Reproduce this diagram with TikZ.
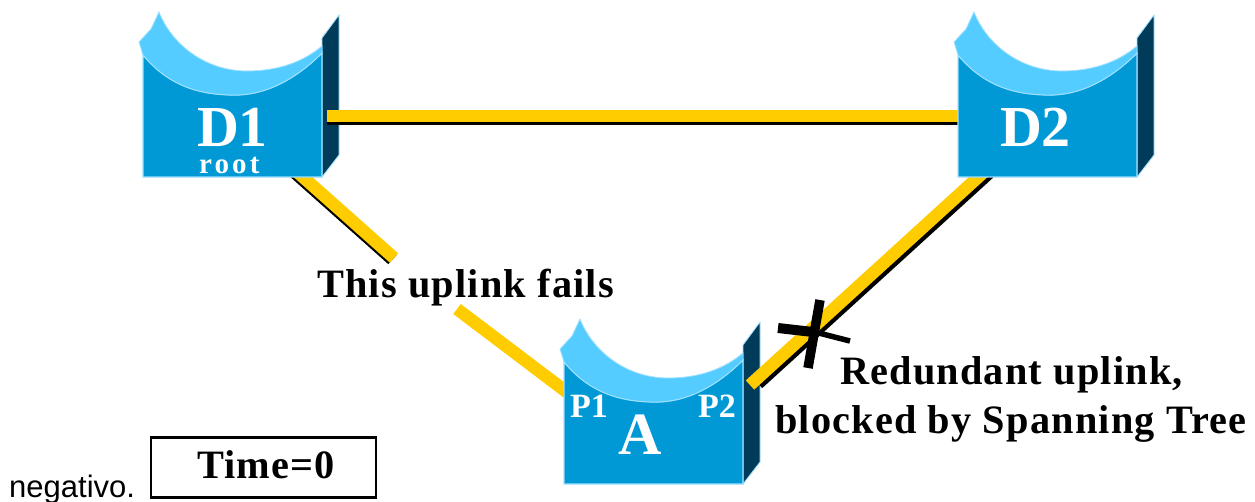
\documentclass[tikz,border=0pt]{standalone}
\usepackage{fontspec}
\setmainfont{Liberation Serif}
\newfontfamily\lblfont[LetterSpace=3]{Liberation Serif}
\newfontfamily\rootfont[LetterSpace=11]{Liberation Serif}
\newfontfamily\capfont{Liberation Sans}
\usetikzlibrary{calc}
\definecolor{swfront}{RGB}{0,153,214}
\definecolor{swlight}{RGB}{85,204,255}
\definecolor{swside}{RGB}{0,60,90}
\definecolor{swedge}{RGB}{160,225,255}
\definecolor{linkyellow}{RGB}{255,204,0}
\tikzset{
  x=1pt,y=-1pt,
  link/.style={draw=linkyellow,line width=12.5pt},
  linkshadow/.style={draw=black,line width=12.5pt},
  lbl/.style={inner sep=0pt,outer sep=0pt,anchor=base west,font=\lblfont\bfseries\fontsize{40.3}{40.3}\selectfont},
  swlbl/.style={inner sep=0pt,outer sep=0pt,anchor=base west,text=white,font=\bfseries\fontsize{#1}{#1}\selectfont},
  xmark/.style={draw=black,line cap=butt,line join=round},
  timebox/.style={draw=black,line width=2.5pt,fill=white,minimum width=225pt,minimum height=60pt,inner sep=0pt}
}
% #1 = x of lower-left front corner, #2 = y of lower-left front corner
\newcommand{\switchicon}[2]{%
  \begin{scope}[shift={(#1,#2)}]
    \fill[swside,draw=swedge,line width=0.8pt] (179,-139) -- (196,-162) -- (196,-22) -- (179,0) -- cycle;
    \fill[swfront,draw=swedge,line width=1.2pt] (0,-122)
       .. controls (25,-92) and (55,-82) .. (92,-82)
       .. controls (125,-82) and (155,-100) .. (179,-124)
       -- (179,0) -- (0,0) -- cycle;
    \fill[swlight,draw=swedge,line width=0.8pt] (16,-165) -- (8,-148) -- (-4,-135) -- (0,-122)
       .. controls (25,-92) and (55,-82) .. (92,-82)
       .. controls (125,-82) and (155,-100) .. (179,-124)
       -- (179,-131)
       .. controls (160,-115) and (135,-106) .. (104,-106)
       .. controls (65,-106) and (30,-130) .. (16,-165) -- cycle;
  \end{scope}%
}
\begin{document}
\begin{tikzpicture}
\useasboundingbox (0,0) rectangle (1255,501);
\fill[white] (0,0) rectangle (1255,501);
% connector end points
\coordinate (d1s) at (295,170);
\coordinate (gapa) at (394,258);
\coordinate (gapb) at (457,309);
\coordinate (ap1) at (568,393);
\coordinate (d1e) at (327,116);
\coordinate (d2w) at (965,116);
\coordinate (ap2) at (750,385);
\coordinate (d2s) at (986,170);
\coordinate (ap2s) at (755,380.5);
% D1 - A, broken by the label
\draw[linkshadow] ($(d1s)+(-1.5,1.5)$) -- ($(gapa)+(-1.5,1.5)$);
\path[link] (d1s) -- (gapa);
\path[link] (gapb) -- (ap1);
% switches D1 and A
\switchicon{143}{177}
\switchicon{564}{484}
% D1 - D2
\draw[linkshadow,line width=3pt] ($(d1e)+(0,7)$) -- ($(d2w)+(0,7)$);
\path[link] (d1e) -- (d2w);
% A - D2
\draw[linkshadow] ($(ap2s)+(3,3)$) -- ($(d2s)+(3,3)$);
\path[link] (ap2) -- (d2s);
% switch D2
\switchicon{958}{177}
% block mark
\draw[xmark,line width=9.5pt] (820,300) -- (808,368);
\draw[xmark,line width=10pt] (778,328) -- (813,332);
\draw[xmark,line width=5.5pt] (811,331) -- (850,341);
% switch labels
\node[swlbl=58] (lD1) at (197,146) {D1};
\node[swlbl=30,font=\rootfont\bfseries\fontsize{29}{29}\selectfont] (lroot) at (199,173) {root};
\node[swlbl=58] (lD2) at (1000,146) {D2};
\node[swlbl=60] (lA) at (618,454) {A};
\node[swlbl=34] (lP1) at (570,417) {P1};
\node[swlbl=34] (lP2) at (698,417) {P2};
% texts
\node[lbl] (fails) at (317,297) {This uplink fails};
\node[lbl] (red1) at (840,384) {Redundant uplink,};
\node[lbl] (red2) at (775,433) {blocked by Spanning Tree};
\node[timebox] (tbox) at (263.5,467.5) {};
\node[lbl] (tlabel) at (197,478) {Time=0};
\node[inner sep=0pt,anchor=base west,font=\capfont\fontsize{31}{31}\selectfont] (neg) at (9,497) {negativo.};
\end{tikzpicture}
\end{document}
